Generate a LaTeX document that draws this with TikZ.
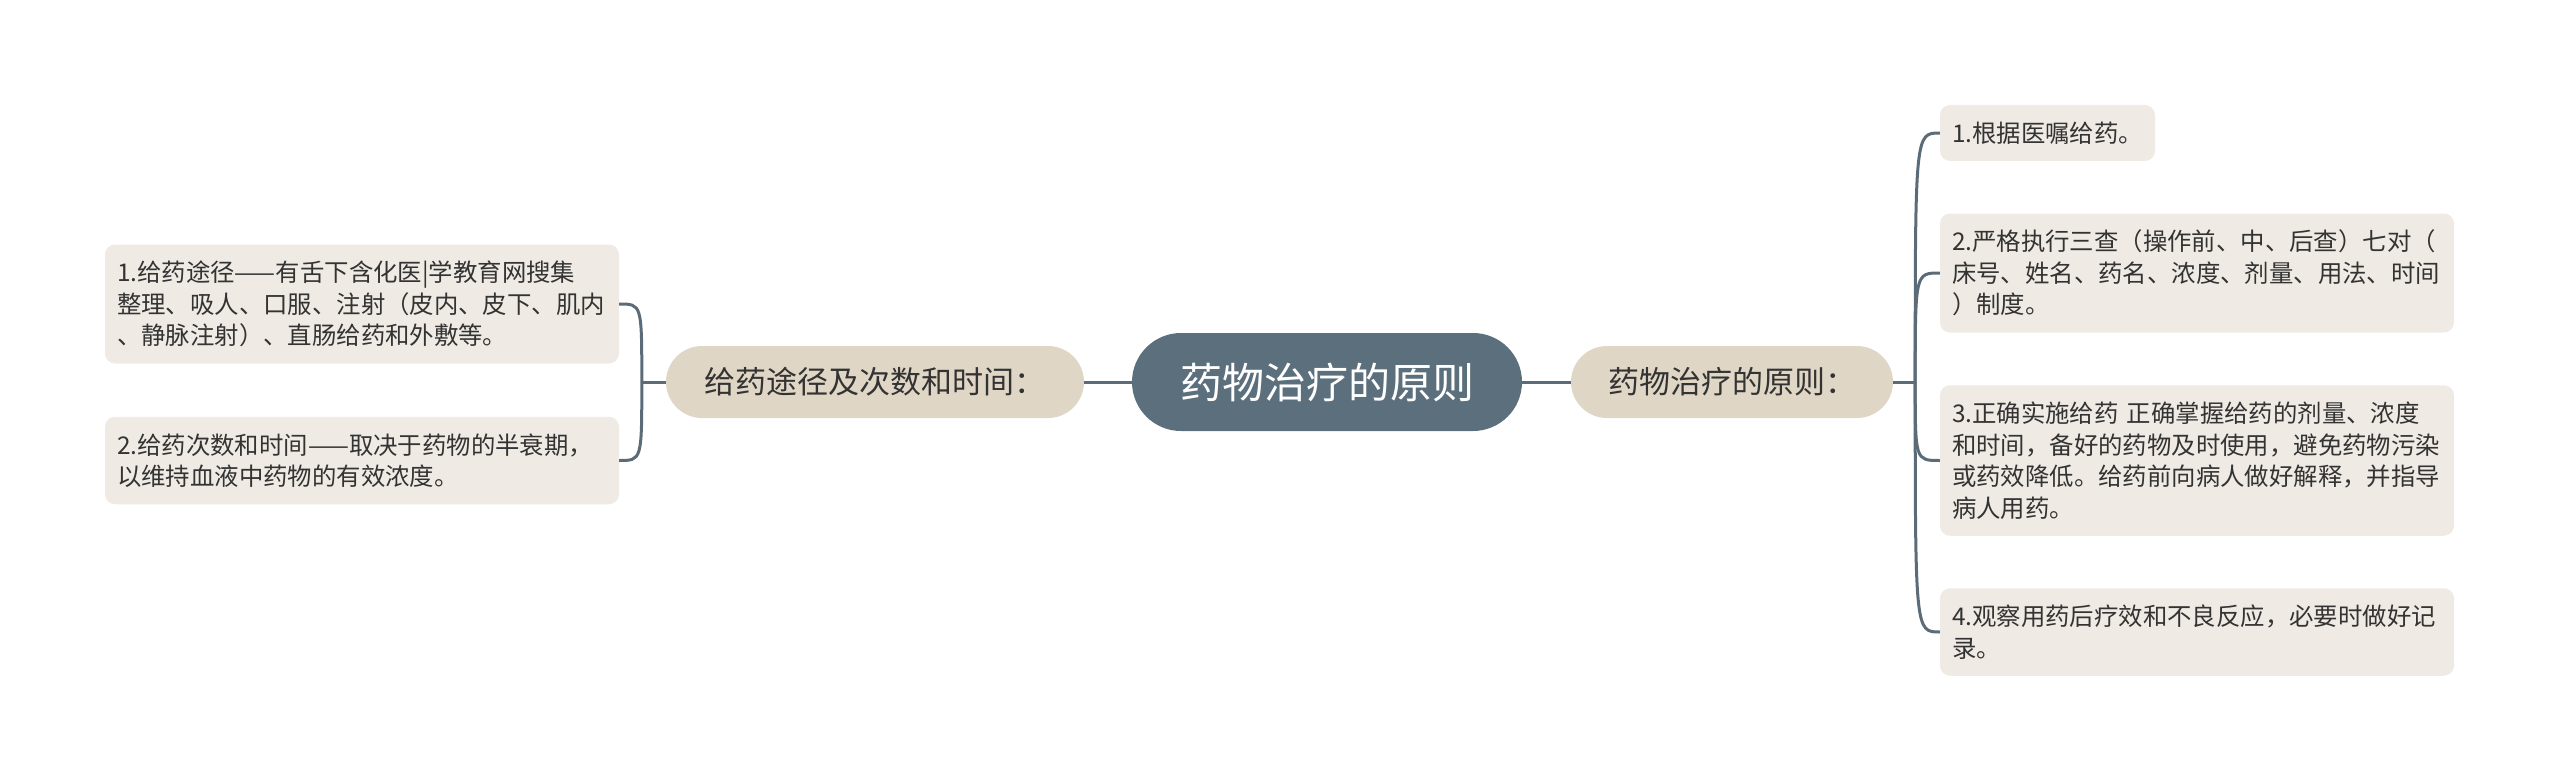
\documentclass[tikz,border=0pt]{standalone}
\usepackage{fontspec}
\setmainfont{Noto Sans CJK SC}
\usetikzlibrary{positioning}
\definecolor{slate}{HTML}{5C6F7C}
\definecolor{linegray}{HTML}{5B6C78}
\definecolor{sand}{HTML}{E0D6C6}
\definecolor{paper}{HTML}{EFEBE4}
\definecolor{ink}{HTML}{333333}

\begin{document}
\begin{tikzpicture}[x=1pt, y=1pt, node distance=450pt, >=stealth]
    % Define styles for blocks and lines
    \tikzstyle{centerblock} = [fill=slate, text=white, rectangle, rounded corners=49pt, minimum height=98pt, minimum width=390pt, font=\fontsize{42}{48}\selectfont]
    \tikzstyle{branchblock} = [fill=sand, text=ink, rectangle, rounded corners=36pt, minimum height=72pt, font=\fontsize{31}{36}\selectfont]
    \tikzstyle{leafblock} = [fill=paper, text=ink, rectangle, rounded corners=10pt, inner xsep=12pt, inner ysep=4pt, align=left, text width=490pt, font=\fontsize{24.4}{31.5}\selectfont]
    \tikzstyle{line} = [draw=linegray, line width=3pt]

    \useasboundingbox (0,0) rectangle (2560,-781);

    % Place nodes
    \node [centerblock] (principle) at (1327,-382) {药物治疗的原则};
    \node [branchblock, left of = principle, xshift=-2pt, minimum width=418pt] (routes) {给药途径及次数和时间：};
    \node [branchblock, right of = principle, xshift=-45pt, minimum width=322pt] (rules) {药物治疗的原则：};

    \node [leafblock, left of = routes, xshift=-63pt, yshift=78pt, minimum height=119pt] (routeA) {1.给药途径——有舌下含化医|学教育网搜集\\整理、吸人、口服、注射（皮内、皮下、肌内\\、静脉注射）、直肠给药和外敷等。};
    \node [leafblock, left of = routes, xshift=-63pt, yshift=-78.5pt, minimum height=87.5pt] (routeB) {2.给药次数和时间——取决于药物的半衰期，\\以维持血液中药物的有效浓度。};

    \node [leafblock, right of = rules, xshift=-134.5pt, yshift=249pt, text width=191pt, minimum height=56pt] (ruleA) {1.根据医嘱给药。};
    \node [leafblock, right of = rules, xshift=15pt, yshift=109pt, minimum height=119pt] (ruleB) {2.严格执行三查（操作前、中、后查）七对（\\床号、姓名、药名、浓度、剂量、用法、时间\\）制度。};
    \node [leafblock, right of = rules, xshift=15pt, yshift=-78.5pt, minimum height=150.5pt] (ruleC) {3.正确实施给药 正确掌握给药的剂量、浓度\\和时间，备好的药物及时使用，避免药物污染\\或药效降低。给药前向病人做好解释，并指导\\病人用药。};
    \node [leafblock, right of = rules, xshift=15pt, yshift=-250pt, minimum height=87.5pt] (ruleD) {4.观察用药后疗效和不良反应，必要时做好记\\录。};

    % Draw edges
    \coordinate (routesjoint) at ([xshift=-24pt]routes.west);
    \coordinate (rulesjoint) at ([xshift=22pt]rules.east);
    \path [line] (principle) -- (routes);
    \path [line] (principle) -- (rules);
    \path [line] (routes.west) -- (routesjoint);
    \path [line] (routesjoint) .. controls (routesjoint |- routeA.east) .. (routeA.east);
    \path [line] (routesjoint) .. controls (routesjoint |- routeB.east) .. (routeB.east);
    \path [line] (rules.east) -- (rulesjoint);
    \path [line] (rulesjoint) .. controls (rulesjoint |- ruleA.west) .. (ruleA.west);
    \path [line] (rulesjoint) .. controls (rulesjoint |- ruleB.west) .. (ruleB.west);
    \path [line] (rulesjoint) .. controls (rulesjoint |- ruleC.west) .. (ruleC.west);
    \path [line] (rulesjoint) .. controls (rulesjoint |- ruleD.west) .. (ruleD.west);
\end{tikzpicture}
\end{document}
